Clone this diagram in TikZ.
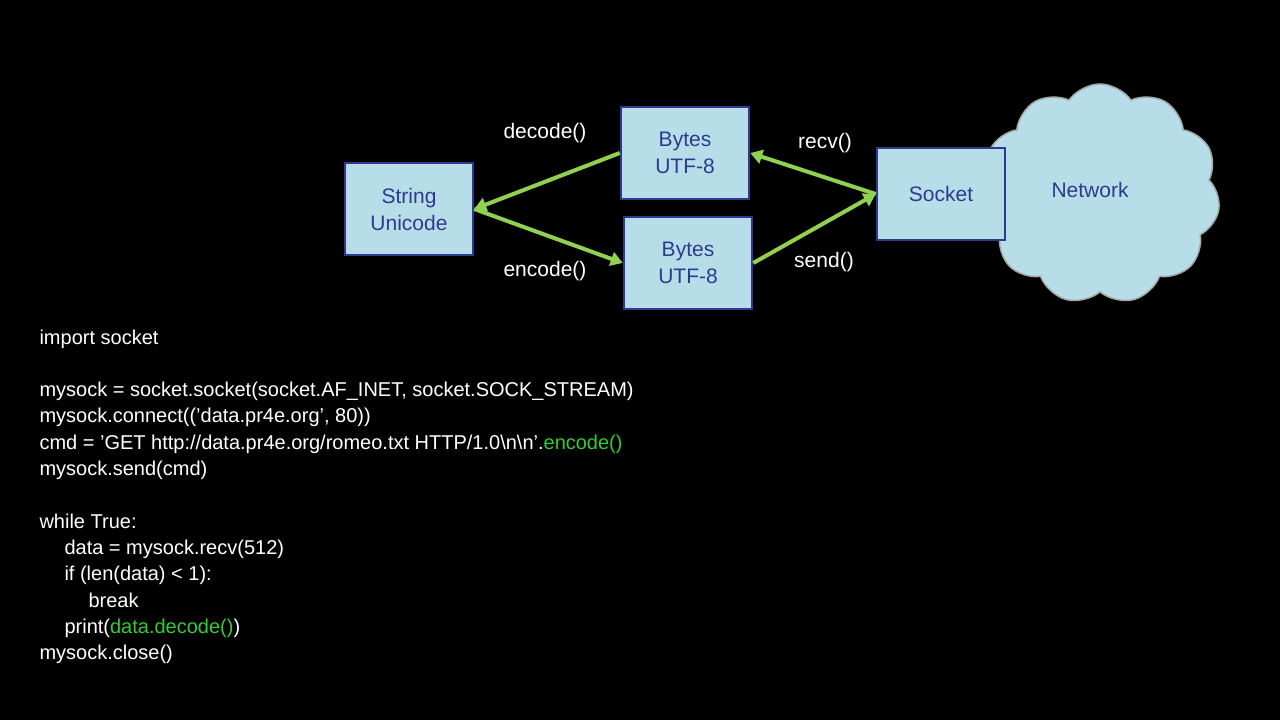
\documentclass[tikz,border=0pt]{standalone}
\usepackage{fontspec}
\setmainfont{Liberation Sans}
\usetikzlibrary{arrows.meta, positioning, shapes.symbols}
\definecolor{boxfill}{HTML}{B7DEE8}
\definecolor{boxline}{HTML}{2E3A8C}
\definecolor{flow}{HTML}{92D050}
\definecolor{codegreen}{HTML}{33CC33}
\newcommand\gr[1]{\textcolor{codegreen}{#1}}
\tikzset{
  box/.style={draw=boxline, line width=2.5pt, fill=boxfill, minimum width=128pt, minimum height=92pt, align=center, text=boxline, font=\fontsize{21}{27}\selectfont},
  lbl/.style={text=white, font=\fontsize{21}{25}\selectfont},
  flowarrow/.style={draw=flow, line width=4pt, -{Triangle[length=12pt,width=14pt]}}
}
\begin{document}
\begin{tikzpicture}[x=1pt, y=-1pt]
		\fill[black] (0,0) rectangle (1280,720);
		\useasboundingbox (0,0) rectangle (1280,720);
		\node[cloud, cloud puffs=11, cloud puff arc=110, aspect=1, draw=gray!70, line width=1.5pt, fill=boxfill, minimum width=240pt, minimum height=220pt]	(cloud)	at (1100,194) {};
		\node[text=boxline, font=\fontsize{21}{25}\selectfont]	(net)	at (1090,190) {Network};
		\node[box]	(str)	at (409,209)	{String\\Unicode};
		\node[box]	(bin)	at (685,153)	{Bytes\\UTF-8};
		\node[box]	(bout)	at (688,263)	{Bytes\\UTF-8};
		\node[box]	(sock)	at (941,194)	{Socket};
		\node[lbl]	(dec)	at (545,133)	{decode()};
		\node[lbl]	(enc)	at (545,271)	{encode()};
		\node[lbl]	(recv)	at (825,143)	{recv()};
		\node[lbl]	(send)	at (824,262)	{send()};
		\draw[flowarrow] (bin.west) -- (str.east);
		\draw[flowarrow] (str.east) -- (bout.west);
		\draw[flowarrow] (sock.west) -- (bin.east);
		\draw[flowarrow] (bout.east) -- (sock.west);
		\node[lbl, anchor=north west, align=left, font=\fontsize{20}{26.3}\selectfont]	(code)	at (36,326)	{import socket\\[26.3pt]
mysock = socket.socket(socket.AF\_INET, socket.SOCK\_STREAM)\\
mysock.connect(('data.pr4e.org', 80))\\
cmd = 'GET http://data.pr4e.org/romeo.txt HTTP/1.0\textbackslash n\textbackslash n'.\gr{encode()}\\
mysock.send(cmd)\\[26.3pt]
while True:\\
\hspace*{25pt}data = mysock.recv(512)\\
\hspace*{25pt}if (len(data) < 1):\\
\hspace*{49pt}break\\
\hspace*{25pt}print(\gr{data.decode()})\\
mysock.close()};
\end{tikzpicture}
\end{document}
